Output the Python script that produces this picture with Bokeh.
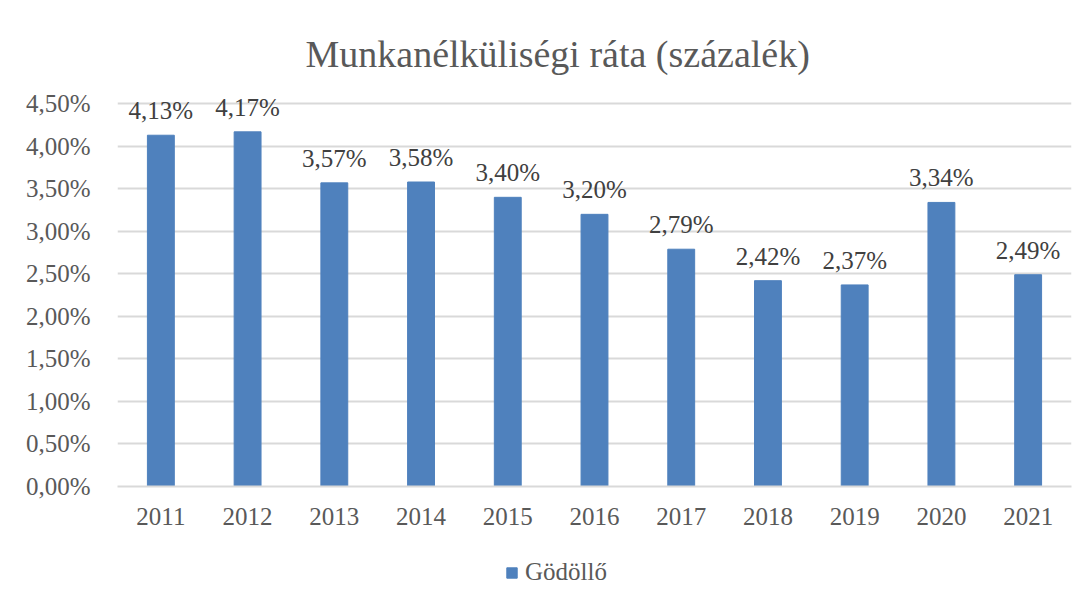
from bokeh.plotting import figure
from bokeh.layouts import column
from bokeh.models import ColumnDataSource, LabelSet, Legend, LegendItem, FixedTicker, FactorRange
from bokeh.embed import file_html
from bokeh.resources import INLINE

years = ["2011", "2012", "2013", "2014", "2015", "2016", "2017", "2018", "2019", "2020", "2021"]
rates = [4.13, 4.17, 3.57, 3.58, 3.40, 3.20, 2.79, 2.42, 2.37, 3.34, 2.49]
y_ticks = [0.0, 0.5, 1.0, 1.5, 2.0, 2.5, 3.0, 3.5, 4.0, 4.5]
series_name = "Gödöllő"
title_text = "Munkanélküliségi ráta (százalék)"

def fmt(v):
    return f"{v:.2f}".replace(".", ",") + "%"

source = ColumnDataSource(dict(x=years, y=rates, lbl=[fmt(v) for v in rates]))

FONT = "Liberation Serif"
TXT = "#595959"
GRID = "#d9d9d9"
BAR = "#4F81BD"

p = figure(
    x_range=FactorRange(*years, range_padding=0),
    y_range=(0, 4.75),
    frame_width=954, frame_height=404,
    output_backend="svg", toolbar_location=None,
    min_border_left=117, min_border_right=20,
    min_border_top=82, min_border_bottom=60,
)
p.outline_line_color = None

p.title.text = title_text
p.title.text_font = FONT
p.title.text_font_size = "38px"
p.title.text_font_style = "normal"
p.title.text_color = TXT
p.title.align = "left"
p.title.offset = 188
p.title.standoff = 16

r = p.vbar(x="x", top="y", width=0.31, source=source, fill_color=BAR, line_color=BAR)

labels = LabelSet(x="x", y="y", text="lbl", source=source, text_align="center",
                  text_baseline="alphabetic", y_offset=16, text_font_size="25px",
                  text_color="#404040")
labels.text_font = FONT
p.add_layout(labels)

p.yaxis.ticker = FixedTicker(ticks=y_ticks)
p.yaxis.major_label_overrides = {t: fmt(t) for t in y_ticks}
p.yaxis.axis_line_color = None
p.yaxis.major_tick_line_color = None
p.yaxis.minor_tick_line_color = None
p.yaxis.major_label_standoff = 21
p.yaxis.major_label_text_font = FONT
p.yaxis.major_label_text_font_size = "25px"
p.yaxis.major_label_text_color = TXT

p.xaxis.axis_line_color = GRID
p.xaxis.axis_line_width = 2
p.xaxis.major_tick_line_color = None
p.xaxis.minor_tick_line_color = None
p.xaxis.major_label_standoff = 15
p.xaxis.major_label_text_font = FONT
p.xaxis.major_label_text_font_size = "25px"
p.xaxis.major_label_text_color = TXT

p.xgrid.grid_line_color = None
p.ygrid.grid_line_color = GRID
p.ygrid.grid_line_width = 2

# legend strip below the chart
lg = figure(
    x_range=FactorRange(*years, range_padding=0),
    y_range=(100, 101),
    frame_width=1091, frame_height=59,
    output_backend="svg", toolbar_location=None,
    x_axis_type=None, y_axis_type=None,
    min_border=0,
)
lg.outline_line_color = None
lg.grid.visible = False
r2 = lg.vbar(x="x", top="y", width=0.31, source=source, fill_color=BAR, line_color=BAR)
legend = Legend(items=[LegendItem(label=series_name, renderers=[r2])],
                orientation="horizontal", location=(505, 19),
                glyph_width=13, glyph_height=13, label_standoff=7,
                padding=0, margin=0, border_line_color=None,
                background_fill_alpha=0)
legend.label_text_font = FONT
legend.label_text_font_size = "25px"
legend.label_text_color = TXT
lg.add_layout(legend, "center")

layout = column(p, lg, spacing=0)
open("out.html", "w").write(file_html(layout, INLINE))
